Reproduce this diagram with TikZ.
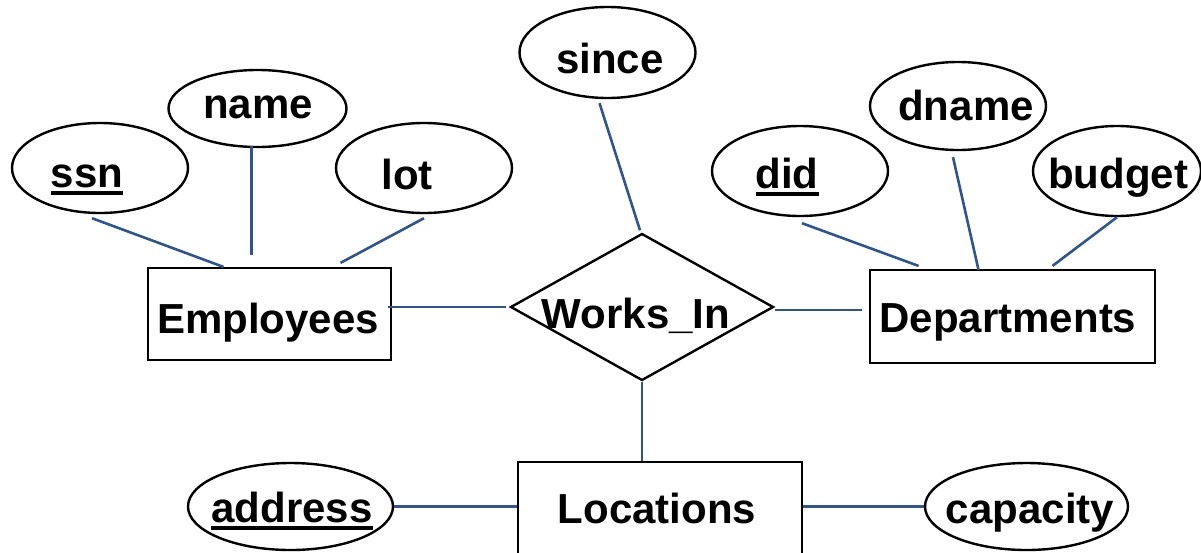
\documentclass[tikz,border=0pt]{standalone}
\usepackage{fontspec}
\setmainfont{Liberation Sans}
\usetikzlibrary{shapes.geometric}
\definecolor{linkblue}{RGB}{46,84,146}
% key attributes: thick rule under the word
\newcommand{\keyattr}[1]{\setbox0\hbox{#1}\rlap{\rule[-8pt]{\wd0}{4pt}}\box0}

\begin{document}
\begin{tikzpicture}[x=1pt,y=-1pt,
  attr/.style={ellipse,draw=black,line width=2.4pt,inner sep=0pt,
               minimum width=176pt,minimum height=90pt},
  entity/.style={rectangle,draw=black,line width=2.2pt,inner sep=0pt},
  rel/.style={diamond,draw=black,line width=2.4pt,inner sep=0pt,
              minimum width=263pt,minimum height=147pt},
  lbl/.style={anchor=base,inner sep=0pt,
              font=\fontsize{42}{50}\selectfont\bfseries},
  link/.style={draw=linkblue,line width=2.6pt}]

\useasboundingbox (0,0) rectangle (1201,552);
\clip (0,0) rectangle (1201,552);

% Employees and its attributes
\node[entity,minimum width=243pt,minimum height=92pt] (emp) at (269.5,314) {};
\node[lbl] (emp-t) at (268,333) {Employees};
\node[attr] (ssn) at (100,168) {};
\node[lbl] (ssn-t) at (87,187) {\keyattr{ssn}};
\node[attr,minimum width=178pt,minimum height=77pt] (name) at (257.5,108.5) {};
\node[lbl] (name-t) at (258,118) {name};
\node[attr] (lot) at (424,168) {};
\node[lbl] (lot-t) at (407,189) {lot};

% relationship
\node[rel] (works) at (642,307) {};
\node[lbl] (works-t) at (636,328) {Works\_In};
\node[attr,minimum height=91pt] (since) at (607.5,52.5) {};
\node[lbl] (since-t) at (610,73) {since};

% Departments and its attributes
\node[entity,minimum width=285pt,minimum height=93pt] (dept) at (1012.5,316.5) {};
\node[lbl] (dept-t) at (1008,332) {Departments};
\node[attr] (did) at (800,171) {};
\node[lbl] (did-t) at (787,188) {\keyattr{did}};
\node[attr,minimum height=88pt] (dname) at (958,106) {};
\node[lbl] (dname-t) at (966,120) {dname};
\node[attr,minimum width=168pt] (budget) at (1117,171) {};
\node[lbl] (budget-t) at (1118,188) {budget};

% Locations and its attributes
\node[entity,minimum width=284pt,minimum height=108pt] (loc) at (660,516) {};
\node[lbl] (loc-t) at (657,523) {Locations};
\node[attr,minimum width=205pt,minimum height=87pt] (addr) at (290.5,506.5) {};
\node[lbl] (addr-t) at (292,522) {\keyattr{address}};
\node[attr,minimum width=203pt,minimum height=87pt] (cap) at (1026.5,506.5) {};
\node[lbl] (cap-t) at (1030,523) {capacity};

% connectors
\path[link] ([shift={(-8,4)}]ssn.south) -- ([shift={(-46,0)}]emp.north);
\path[link] ([shift={(-6,-2)}]name.south) -- ([shift={(-18,-12)}]emp.north);
\path[link] ([shift={(0,4)}]lot.south) -- ([shift={(71,-4)}]emp.north);
\path[link] ([shift={(-8,4)}]since.south) -- ([shift={(-2,-2)}]works.north);
\path[link] ([shift={(-4,-7)}]emp.east) -- ([shift={(-3,0)}]works.west);
\path[link] ([shift={(0,3)}]works.east) -- ([shift={(-7,-6.5)}]dept.west);
\path[link] ([shift={(2,6)}]did.south) -- ([shift={(-94,-3)}]dept.north);
\path[link] ([shift={(-5,6)}]dname.south) -- ([shift={(-34,1)}]dept.north);
\path[link] ([shift={(0,0)}]budget.south) -- ([shift={(40,-3)}]dept.north);
\path[link] (works.south) -- (loc.north -| works.south);
\path[link] (addr.east) -- (loc.west |- addr.east);
\path[link] (loc.east |- cap.west) -- (cap.west);
\end{tikzpicture}
\end{document}
